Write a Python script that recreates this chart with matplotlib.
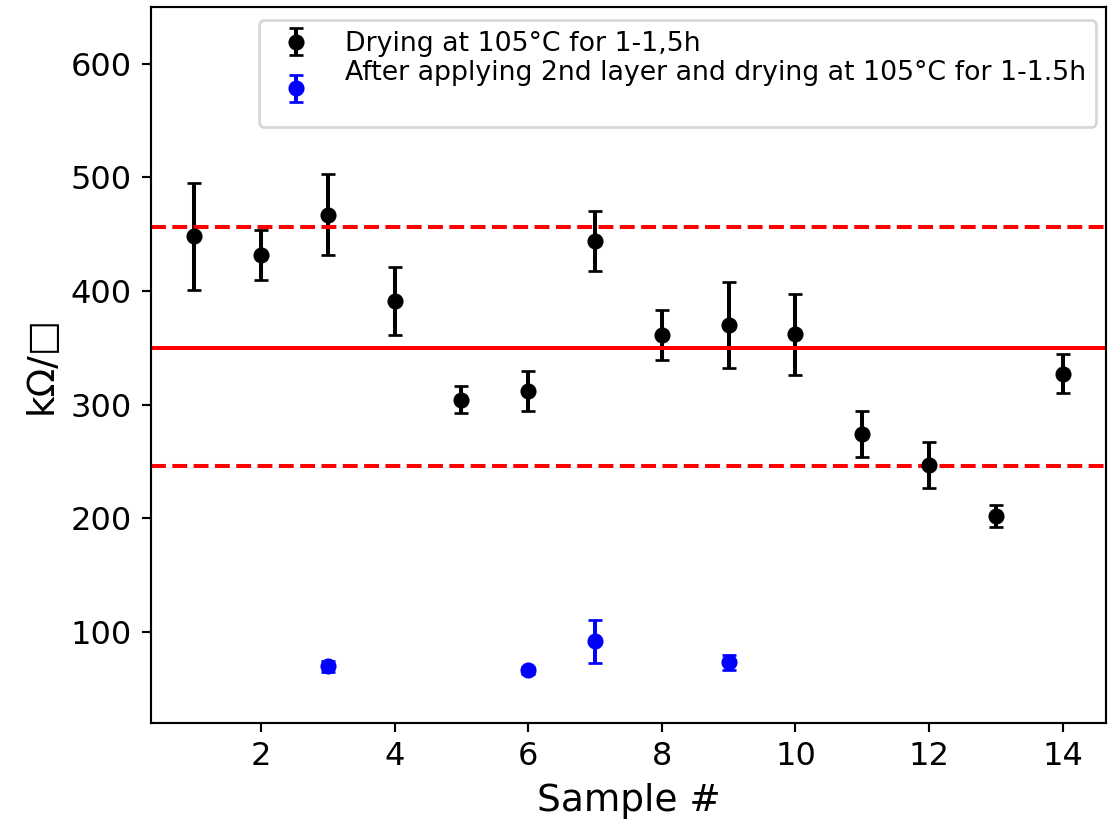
import numpy as np
import matplotlib
matplotlib.use("Agg")
import matplotlib.pyplot as plt

# first drying, all samples
samples = np.arange(1, 15)
r_first = [448, 431.6, 467, 391.2, 304.5, 312, 444.2, 361.5, 370, 361.9, 274.3, 247, 202, 327.2]
r_first_err = [47, 22.3, 35.7, 29.8, 12, 17.2, 26.4, 22, 37.5, 35.5, 20.5, 20.5, 9.3, 17]

# after second layer
samples_2nd = [3, 6, 7, 9]
r_second = [69.5, 66, 91.5, 73.2]
r_second_err = [5, 3, 19, 6.6]

mean_level = 350
band = [456, 246]

dpi = 193
fig = plt.figure(figsize=(1109 / dpi, 821 / dpi), dpi=dpi)
ax = fig.add_axes([0.136, 0.1197, 0.9973 - 0.136, 0.9915 - 0.1197])

ax.errorbar(samples, r_first, yerr=r_first_err, fmt='o', color='black',
            ms=5, capsize=2.5, label='Drying at 105°C for 1-1,5h')
ax.errorbar(samples_2nd, r_second, yerr=r_second_err, fmt='o', color='blue',
            ms=5, capsize=2.5,
            label='After applying 2nd layer and drying at 105°C for 1-1.5h\n')

ax.axhline(mean_level, color='red', lw=1.5)
for b in band:
    ax.axhline(b, color='red', ls='--', lw=1.5)

ax.set_ylim(20, 650)
ax.set_xlabel('Sample #', fontsize=14)
ax.set_ylabel('kΩ/□', fontsize=14)
ax.tick_params(labelsize=12)
ax.legend(loc='upper right', bbox_to_anchor=(1.004, 1.0), fontsize=10, labelspacing=0.1)

fig.savefig('out.png', dpi=dpi)
